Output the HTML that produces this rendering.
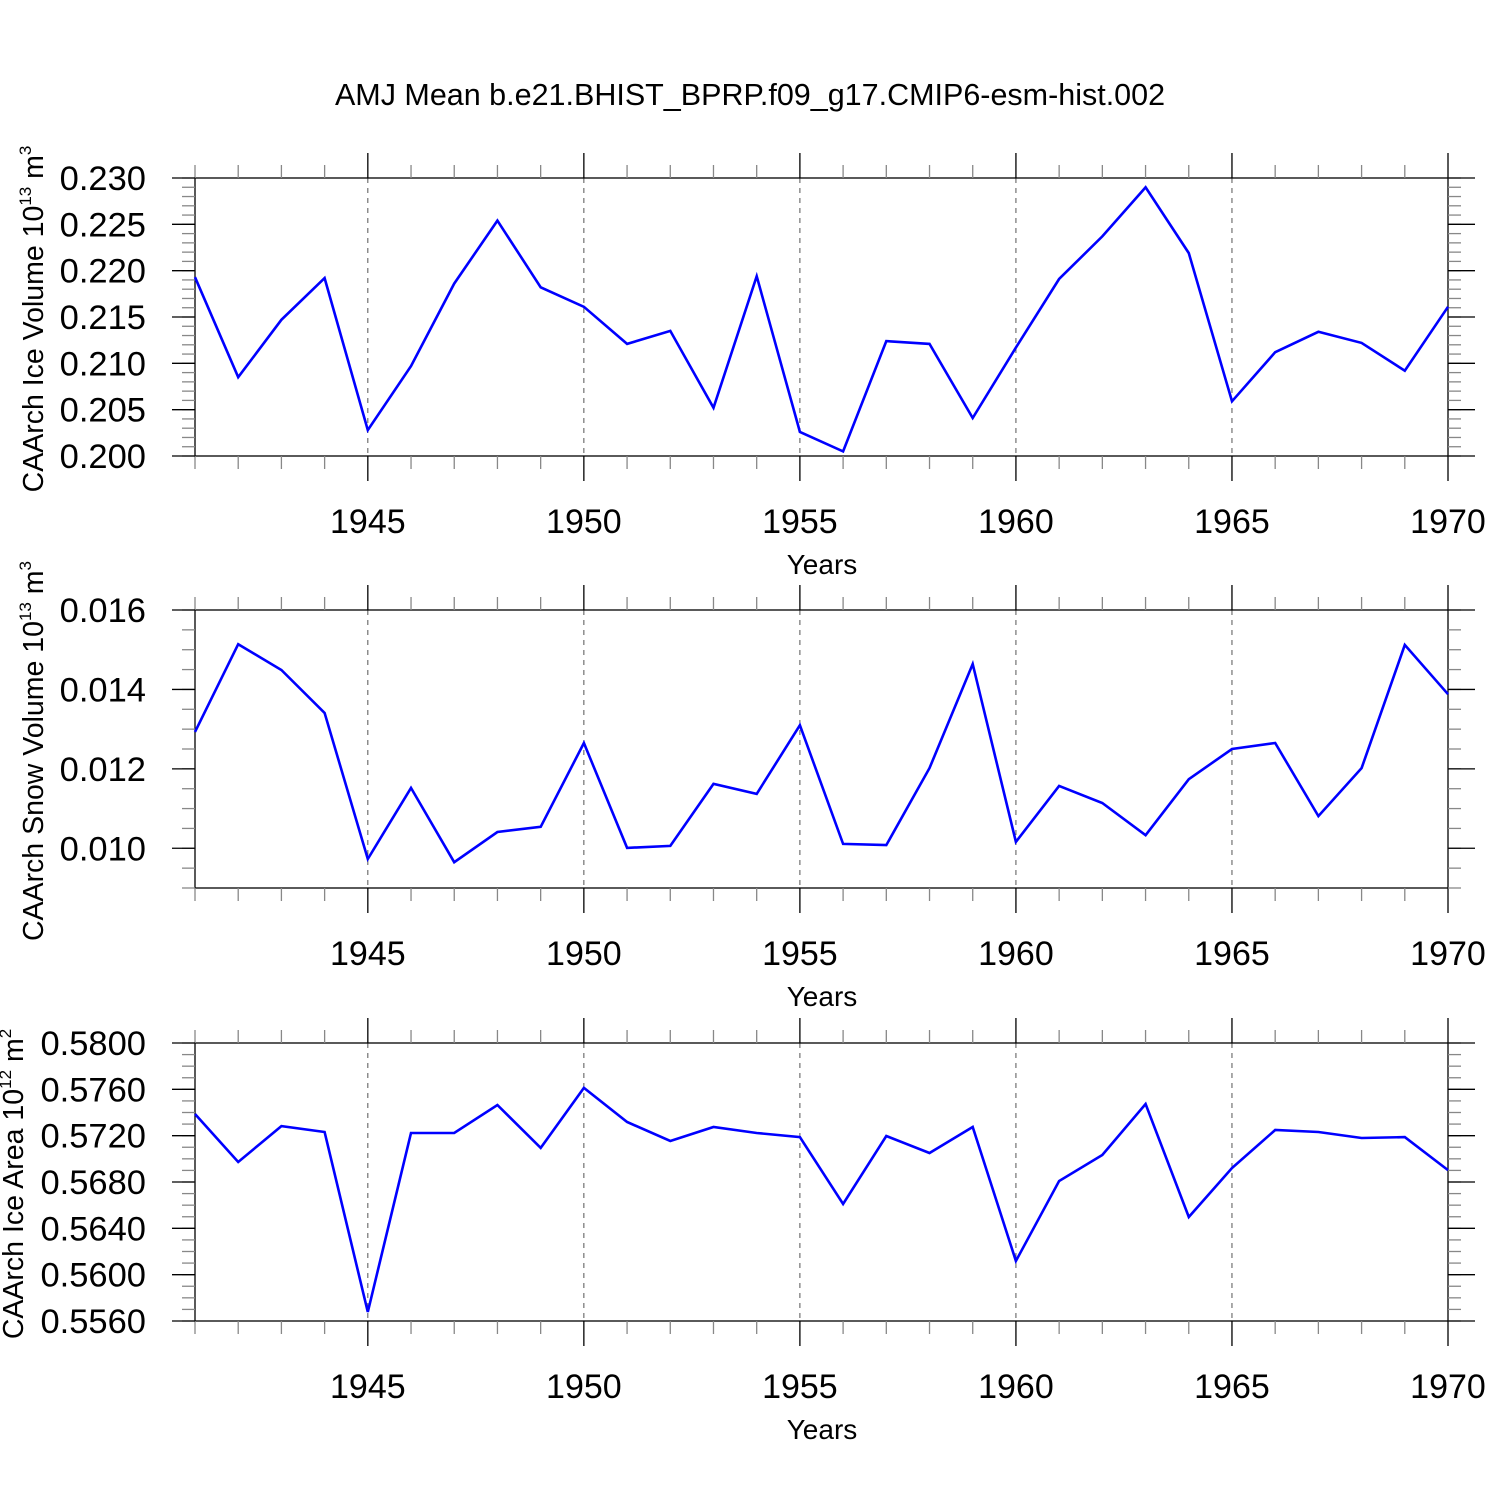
<!DOCTYPE html>
<html><head><meta charset="utf-8"><style>
html,body{margin:0;padding:0;background:#fff;}
svg{display:block;font-family:"Liberation Sans",sans-serif;}
</style></head><body>
<svg id="chart" width="1500" height="1500" viewBox="0 0 1500 1500">
<text x="750" y="105" font-size="30.5" text-anchor="middle">AMJ Mean b.e21.BHIST_BPRP.f09_g17.CMIP6-esm-hist.002</text>
</svg>
<script>
const years = [1941,1942,1943,1944,1945,1946,1947,1948,1949,1950,1951,1952,1953,1954,1955,1956,1957,1958,1959,1960,1961,1962,1963,1964,1965,1966,1967,1968,1969,1970];
const iceVolume = [0.2193,0.2085,0.2147,0.2192,0.2028,0.2097,0.2186,0.2254,0.2182,0.2161,0.2121,0.2135,0.2052,0.2194,0.2026,0.2005,0.2124,0.2121,0.2041,0.2117,0.2191,0.2237,0.2290,0.2219,0.2059,0.2112,0.2134,0.2122,0.2092,0.2161];
const snowVolume = [0.01293,0.01514,0.01449,0.01341,0.00973,0.01152,0.00965,0.01041,0.01054,0.01265,0.01001,0.01006,0.01162,0.01137,0.01310,0.01011,0.01008,0.01202,0.01464,0.01016,0.01157,0.01114,0.01033,0.01174,0.01250,0.01265,0.01081,0.01202,0.01512,0.01388];
const iceArea = [0.57387,0.56973,0.57283,0.57232,0.55678,0.57223,0.57223,0.57465,0.57094,0.57612,0.57318,0.57154,0.57275,0.57223,0.57188,0.56610,0.57197,0.57050,0.57275,0.56118,0.56809,0.57033,0.57473,0.56498,0.56921,0.57249,0.57232,0.57180,0.57188,0.56903];
const xTickLabels = [1945,1950,1955,1960,1965,1970];
const iceVolumeTicks = ["0.230","0.225","0.220","0.215","0.210","0.205","0.200"];
const snowVolumeTicks = ["0.016","0.014","0.012","0.010"];
const iceAreaTicks = ["0.5800","0.5760","0.5720","0.5680","0.5640","0.5600","0.5560"];

const svg = document.getElementById('chart');
const NS = 'http://www.w3.org/2000/svg';
function mk(tag, attrs, parent){const e=document.createElementNS(NS,tag);for(const k in attrs)e.setAttribute(k,attrs[k]);(parent||svg).appendChild(e);return e;}
const X0=195, X1=1448, xmin=1941, xmax=1970;
const xs = v => X0 + (v-xmin)/(xmax-xmin)*(X1-X0);

function panel(name, top, ymin, ymax, vals, ticks, minorStep, title, sup, supUnit){
  const bot = top+278;
  const ys = v => bot - (v-ymin)/(ymax-ymin)*(bot-top);
  const g = mk('g',{});
  
  
  xTickLabels.forEach(yr=>{ if(yr<xmax){
    const l=mk('line',{x1:xs(yr),x2:xs(yr),y1:top,y2:bot,stroke:'#555','stroke-width':1,'stroke-dasharray':'5,5'},g);
    
    
  }});
  const fr=mk('rect',{x:X0,y:top,width:X1-X0,height:bot-top,fill:'none',stroke:'#000','stroke-width':1.3},g);
  
  
  for(let yr=xmin; yr<=xmax; yr++){
    const major = yr%5===0; const len = major?25:13;
    mk('line',{x1:xs(yr),x2:xs(yr),y1:bot,y2:bot+len,stroke:major?'#000':'#888','stroke-width':1.3},g);
    mk('line',{x1:xs(yr),x2:xs(yr),y1:top,y2:top-len,stroke:major?'#000':'#888','stroke-width':1.3},g);
  }
  xTickLabels.forEach(yr=>{
    const t=mk('text',{x:xs(yr),y:bot+77,'font-size':34,'text-anchor':'middle'},g);
    t.textContent=yr;
    
    
  });
  const xt=mk('text',{x:822,y:bot+118,'font-size':28,'text-anchor':'middle'},g);
  xt.textContent='Years';
  
  
  const n = Math.round((ymax-ymin)/minorStep);
  for(let i=0;i<=n;i++){
    const y=ys(ymin+i*minorStep);
    mk('line',{x1:X0-13,x2:X0,y1:y,y2:y,stroke:'#888','stroke-width':1.3},g);
    mk('line',{x1:X1,x2:X1+13,y1:y,y2:y,stroke:'#888','stroke-width':1.3},g);
  }
  ticks.forEach(s=>{
    const y=ys(parseFloat(s));
    mk('line',{x1:X0-23,x2:X0,y1:y,y2:y,stroke:'#000','stroke-width':1.3},g);
    mk('line',{x1:X1,x2:X1+27,y1:y,y2:y,stroke:'#000','stroke-width':1.3},g);
    const t=mk('text',{x:146,y:y+12,'font-size':34.5,'text-anchor':'end'},g);
    t.textContent=s;
    
    
  });
  const cx = ticks[0].length>5 ? 23 : 43;
  const yt=mk('text',{x:0,y:0,'font-size':28.5,'text-anchor':'middle',transform:`translate(${cx},${(top+bot)/2+2}) rotate(-90)`},g);
  
  
  yt.innerHTML = title+' 10<tspan dy="-12" font-size="17">'+sup+'</tspan><tspan dy="12"> m</tspan><tspan dy="-12" font-size="17">'+supUnit+'</tspan>';
  const pts = vals.map((v,i)=>xs(years[i]).toFixed(1)+','+ys(v).toFixed(1)).join(' ');
  const pl=mk('polyline',{points:pts,fill:'none',stroke:'#0000ff','stroke-width':2.6,'stroke-linejoin':'miter'},g);
  
  
}
panel('ice-volume',178,0.200,0.230,iceVolume,iceVolumeTicks,0.001,'CAArch Ice Volume','13','3');
panel('snow-volume',610,0.009,0.016,snowVolume,snowVolumeTicks,0.0005,'CAArch Snow Volume','13','3');
panel('ice-area',1043,0.556,0.580,iceArea,iceAreaTicks,0.001,'CAArch Ice Area','12','2');
</script>
</body></html>
